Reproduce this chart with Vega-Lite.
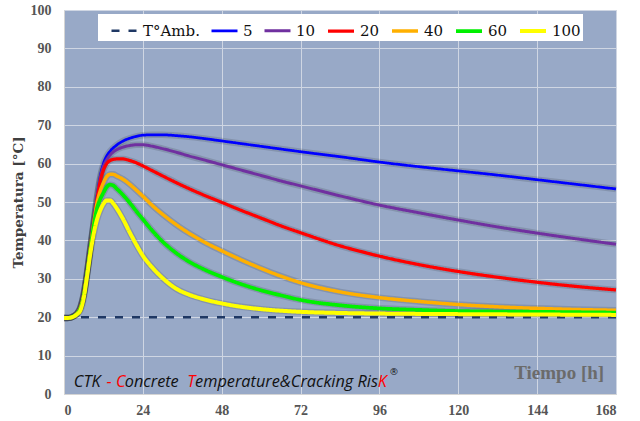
{
  "$schema": "https://vega.github.io/schema/vega-lite/v6.json",
  "width": 552,
  "height": 384,
  "autosize": {"type": "none"},
  "padding": {"left": 64, "top": 10, "right": 24, "bottom": 27},
  "background": "white",
  "config": {
    "view": {"fill": "#98a9c7", "stroke": "#d4d4d4", "strokeWidth": 1},
    "axis": {
      "grid": true, "gridColor": "#cfd6e3", "gridWidth": 1,
      "domainColor": "#d4d4d4", "ticks": false,
      "labelFont": "Liberation Serif", "labelFontWeight": "bold", "labelFontSize": 14, "labelColor": "#555555",
      "titleFont": "DejaVu Serif", "titleFontWeight": "bold", "titleFontSize": 13.5, "titleColor": "#404040"
    },
    "legend": {
      "orient": "none", "legendX": 34, "legendY": 4, "direction": "horizontal",
      "fillColor": "white", "padding": 2,
      "labelFont": "DejaVu Serif", "labelFontSize": 15, "labelColor": "#111111",
      "symbolType": "stroke", "symbolStrokeWidth": 4, "symbolSize": 676,
      "symbolOffset": 10, "labelOffset": 4, "columnPadding": 0
    }
  },
  "datasets": {
    "temps": [
      {"s": "T°Amb.", "h": 0, "t": 20}, {"s": "T°Amb.", "h": 168, "t": 20},

      {"s": "5", "h": 0, "t": 19.8}, {"s": "5", "h": 1, "t": 19.8}, {"s": "5", "h": 2, "t": 19.9}, {"s": "5", "h": 3, "t": 20.3},
      {"s": "5", "h": 4, "t": 21.0}, {"s": "5", "h": 5, "t": 22.6}, {"s": "5", "h": 6, "t": 26.0}, {"s": "5", "h": 7, "t": 31.5},
      {"s": "5", "h": 8, "t": 38.0}, {"s": "5", "h": 9, "t": 44.5}, {"s": "5", "h": 10, "t": 51.0}, {"s": "5", "h": 11, "t": 56.5},
      {"s": "5", "h": 12, "t": 60.0}, {"s": "5", "h": 13, "t": 62.0}, {"s": "5", "h": 14, "t": 63.2}, {"s": "5", "h": 16, "t": 64.8},
      {"s": "5", "h": 18, "t": 65.9}, {"s": "5", "h": 20, "t": 66.6}, {"s": "5", "h": 22, "t": 67.1}, {"s": "5", "h": 24, "t": 67.4},
      {"s": "5", "h": 27, "t": 67.5}, {"s": "5", "h": 30, "t": 67.5}, {"s": "5", "h": 34, "t": 67.3}, {"s": "5", "h": 38, "t": 67.0},
      {"s": "5", "h": 42, "t": 66.6}, {"s": "5", "h": 48, "t": 65.9}, {"s": "5", "h": 60, "t": 64.5}, {"s": "5", "h": 72, "t": 63.1},
      {"s": "5", "h": 84, "t": 61.8}, {"s": "5", "h": 96, "t": 60.4}, {"s": "5", "h": 108, "t": 59.2}, {"s": "5", "h": 120, "t": 58.1},
      {"s": "5", "h": 132, "t": 57.0}, {"s": "5", "h": 144, "t": 55.8}, {"s": "5", "h": 156, "t": 54.6}, {"s": "5", "h": 168, "t": 53.4},

      {"s": "10", "h": 0, "t": 19.8}, {"s": "10", "h": 1, "t": 19.8}, {"s": "10", "h": 2, "t": 19.9}, {"s": "10", "h": 3, "t": 20.3},
      {"s": "10", "h": 4, "t": 21.0}, {"s": "10", "h": 5, "t": 22.6}, {"s": "10", "h": 6, "t": 26.0}, {"s": "10", "h": 7, "t": 31.5},
      {"s": "10", "h": 8, "t": 38.0}, {"s": "10", "h": 9, "t": 44.5}, {"s": "10", "h": 10, "t": 51.0}, {"s": "10", "h": 11, "t": 56.2},
      {"s": "10", "h": 12, "t": 59.3}, {"s": "10", "h": 13, "t": 61.0}, {"s": "10", "h": 14, "t": 62.2}, {"s": "10", "h": 16, "t": 63.6},
      {"s": "10", "h": 18, "t": 64.3}, {"s": "10", "h": 20, "t": 64.7}, {"s": "10", "h": 22, "t": 64.9}, {"s": "10", "h": 24, "t": 64.9},
      {"s": "10", "h": 27, "t": 64.5}, {"s": "10", "h": 30, "t": 63.9}, {"s": "10", "h": 34, "t": 63.0}, {"s": "10", "h": 38, "t": 62.0},
      {"s": "10", "h": 42, "t": 61.1}, {"s": "10", "h": 48, "t": 59.7}, {"s": "10", "h": 54, "t": 58.3}, {"s": "10", "h": 60, "t": 56.9},
      {"s": "10", "h": 66, "t": 55.5}, {"s": "10", "h": 72, "t": 54.2}, {"s": "10", "h": 84, "t": 51.6}, {"s": "10", "h": 96, "t": 49.2},
      {"s": "10", "h": 108, "t": 47.2}, {"s": "10", "h": 120, "t": 45.3}, {"s": "10", "h": 132, "t": 43.5}, {"s": "10", "h": 144, "t": 41.9},
      {"s": "10", "h": 156, "t": 40.4}, {"s": "10", "h": 168, "t": 39.0},

      {"s": "20", "h": 0, "t": 19.8}, {"s": "20", "h": 1, "t": 19.8}, {"s": "20", "h": 2, "t": 19.9}, {"s": "20", "h": 3, "t": 20.3},
      {"s": "20", "h": 4, "t": 21.0}, {"s": "20", "h": 5, "t": 22.6}, {"s": "20", "h": 6, "t": 26.0}, {"s": "20", "h": 7, "t": 31.5},
      {"s": "20", "h": 8, "t": 38.0}, {"s": "20", "h": 9, "t": 44.3}, {"s": "20", "h": 10, "t": 50.3}, {"s": "20", "h": 11, "t": 55.3},
      {"s": "20", "h": 12, "t": 58.3}, {"s": "20", "h": 13, "t": 60.0}, {"s": "20", "h": 14, "t": 60.8}, {"s": "20", "h": 15, "t": 61.1},
      {"s": "20", "h": 16, "t": 61.2}, {"s": "20", "h": 18, "t": 61.2}, {"s": "20", "h": 20, "t": 60.8}, {"s": "20", "h": 22, "t": 60.2},
      {"s": "20", "h": 24, "t": 59.4}, {"s": "20", "h": 27, "t": 58.1}, {"s": "20", "h": 30, "t": 56.8}, {"s": "20", "h": 34, "t": 55.1},
      {"s": "20", "h": 38, "t": 53.5}, {"s": "20", "h": 42, "t": 52.0}, {"s": "20", "h": 48, "t": 49.9}, {"s": "20", "h": 54, "t": 47.8},
      {"s": "20", "h": 60, "t": 45.8}, {"s": "20", "h": 66, "t": 43.8}, {"s": "20", "h": 72, "t": 42.0}, {"s": "20", "h": 84, "t": 38.6},
      {"s": "20", "h": 96, "t": 35.9}, {"s": "20", "h": 108, "t": 33.7}, {"s": "20", "h": 120, "t": 31.9}, {"s": "20", "h": 132, "t": 30.4},
      {"s": "20", "h": 144, "t": 29.1}, {"s": "20", "h": 156, "t": 28.0}, {"s": "20", "h": 168, "t": 27.1},

      {"s": "40", "h": 0, "t": 19.8}, {"s": "40", "h": 1, "t": 19.8}, {"s": "40", "h": 2, "t": 19.9}, {"s": "40", "h": 3, "t": 20.3},
      {"s": "40", "h": 4, "t": 21.0}, {"s": "40", "h": 5, "t": 22.5}, {"s": "40", "h": 6, "t": 25.8}, {"s": "40", "h": 7, "t": 31.2},
      {"s": "40", "h": 8, "t": 37.6}, {"s": "40", "h": 9, "t": 44.0}, {"s": "40", "h": 10, "t": 49.5}, {"s": "40", "h": 11, "t": 52.8},
      {"s": "40", "h": 12, "t": 55.0}, {"s": "40", "h": 13, "t": 56.6}, {"s": "40", "h": 14, "t": 57.2}, {"s": "40", "h": 15, "t": 57.2},
      {"s": "40", "h": 16, "t": 56.8}, {"s": "40", "h": 18, "t": 55.9}, {"s": "40", "h": 20, "t": 54.6}, {"s": "40", "h": 22, "t": 53.1},
      {"s": "40", "h": 24, "t": 51.5}, {"s": "40", "h": 27, "t": 49.0}, {"s": "40", "h": 30, "t": 46.8}, {"s": "40", "h": 34, "t": 44.2},
      {"s": "40", "h": 38, "t": 41.9}, {"s": "40", "h": 42, "t": 39.9}, {"s": "40", "h": 48, "t": 37.3}, {"s": "40", "h": 54, "t": 34.9},
      {"s": "40", "h": 60, "t": 32.7}, {"s": "40", "h": 66, "t": 30.7}, {"s": "40", "h": 72, "t": 29.0}, {"s": "40", "h": 84, "t": 26.6},
      {"s": "40", "h": 96, "t": 25.1}, {"s": "40", "h": 108, "t": 24.1}, {"s": "40", "h": 120, "t": 23.3}, {"s": "40", "h": 132, "t": 22.7},
      {"s": "40", "h": 144, "t": 22.3}, {"s": "40", "h": 156, "t": 22.0}, {"s": "40", "h": 168, "t": 21.8},

      {"s": "60", "h": 0, "t": 19.8}, {"s": "60", "h": 1, "t": 19.8}, {"s": "60", "h": 2, "t": 19.9}, {"s": "60", "h": 3, "t": 20.3},
      {"s": "60", "h": 4, "t": 20.9}, {"s": "60", "h": 5, "t": 22.3}, {"s": "60", "h": 6, "t": 25.5}, {"s": "60", "h": 7, "t": 31.0},
      {"s": "60", "h": 8, "t": 37.3}, {"s": "60", "h": 9, "t": 43.5}, {"s": "60", "h": 10, "t": 48.2}, {"s": "60", "h": 11, "t": 50.7},
      {"s": "60", "h": 12, "t": 52.4}, {"s": "60", "h": 13, "t": 53.9}, {"s": "60", "h": 14, "t": 54.5}, {"s": "60", "h": 15, "t": 54.3},
      {"s": "60", "h": 16, "t": 53.5}, {"s": "60", "h": 18, "t": 51.8}, {"s": "60", "h": 20, "t": 49.8}, {"s": "60", "h": 22, "t": 47.6},
      {"s": "60", "h": 24, "t": 45.5}, {"s": "60", "h": 27, "t": 42.4}, {"s": "60", "h": 30, "t": 39.7}, {"s": "60", "h": 34, "t": 36.8},
      {"s": "60", "h": 38, "t": 34.5}, {"s": "60", "h": 42, "t": 32.7}, {"s": "60", "h": 48, "t": 30.5}, {"s": "60", "h": 54, "t": 28.6},
      {"s": "60", "h": 60, "t": 27.0}, {"s": "60", "h": 66, "t": 25.7}, {"s": "60", "h": 72, "t": 24.5}, {"s": "60", "h": 84, "t": 23.1},
      {"s": "60", "h": 96, "t": 22.3}, {"s": "60", "h": 108, "t": 21.9}, {"s": "60", "h": 120, "t": 21.6}, {"s": "60", "h": 144, "t": 21.4},
      {"s": "60", "h": 168, "t": 21.2},

      {"s": "100", "h": 0, "t": 19.8}, {"s": "100", "h": 1, "t": 19.8}, {"s": "100", "h": 2, "t": 19.9}, {"s": "100", "h": 3, "t": 20.2},
      {"s": "100", "h": 4, "t": 20.8}, {"s": "100", "h": 5, "t": 21.8}, {"s": "100", "h": 6, "t": 25.0}, {"s": "100", "h": 7, "t": 30.5},
      {"s": "100", "h": 8, "t": 36.5}, {"s": "100", "h": 9, "t": 41.5}, {"s": "100", "h": 10, "t": 45.3}, {"s": "100", "h": 11, "t": 47.8},
      {"s": "100", "h": 12, "t": 49.5}, {"s": "100", "h": 13, "t": 50.4}, {"s": "100", "h": 14, "t": 50.4}, {"s": "100", "h": 15, "t": 49.6},
      {"s": "100", "h": 16, "t": 48.4}, {"s": "100", "h": 18, "t": 45.5}, {"s": "100", "h": 20, "t": 42.1}, {"s": "100", "h": 22, "t": 38.9},
      {"s": "100", "h": 24, "t": 36.0}, {"s": "100", "h": 27, "t": 32.8}, {"s": "100", "h": 30, "t": 30.2}, {"s": "100", "h": 34, "t": 27.5},
      {"s": "100", "h": 38, "t": 25.9}, {"s": "100", "h": 42, "t": 24.8}, {"s": "100", "h": 48, "t": 23.6}, {"s": "100", "h": 54, "t": 22.7},
      {"s": "100", "h": 60, "t": 22.1}, {"s": "100", "h": 72, "t": 21.4}, {"s": "100", "h": 84, "t": 21.1}, {"s": "100", "h": 96, "t": 20.95},
      {"s": "100", "h": 120, "t": 20.8}, {"s": "100", "h": 144, "t": 20.7}, {"s": "100", "h": 168, "t": 20.6}
    ]
  },
  "layer": [
    {
      "data": {"name": "temps"},
      "transform": [{"filter": "datum.s !== 'T°Amb.'"}],
      "mark": {"type": "line", "interpolate": "monotone", "color": "black", "opacity": 0.13, "strokeWidth": 6.5},
      "encoding": {
        "x": {"field": "h", "type": "quantitative", "scale": {"domain": [0, 168], "nice": false},
          "axis": {"title": null, "values": [0, 24, 48, 72, 96, 120, 144, 168], "labelPadding": 9, "labelAngle": 0}},
        "y": {"field": "t", "type": "quantitative", "scale": {"domain": [0, 100], "nice": false},
          "axis": {"title": "Temperatura [°C]", "values": [0, 10, 20, 30, 40, 50, 60, 70, 80, 90, 100], "labelPadding": 13, "titlePadding": 5}},
        "detail": {"field": "s", "type": "nominal"}
      }
    },
    {
      "data": {"name": "temps"},
      "mark": {"type": "line", "interpolate": "monotone"},
      "encoding": {
        "x": {"field": "h", "type": "quantitative", "scale": {"domain": [0, 168], "nice": false},
          "axis": {"title": null, "values": [0, 24, 48, 72, 96, 120, 144, 168], "labelPadding": 9, "labelAngle": 0}},
        "y": {"field": "t", "type": "quantitative", "scale": {"domain": [0, 100], "nice": false},
          "axis": {"title": "Temperatura [°C]", "values": [0, 10, 20, 30, 40, 50, 60, 70, 80, 90, 100], "labelPadding": 13, "titlePadding": 5}},
        "color": {"field": "s", "type": "nominal",
          "scale": {"domain": ["T°Amb.", "5", "10", "20", "40", "60", "100"],
                    "range": ["#1f3864", "#0000ff", "#7030a0", "#ff0000", "#ffb000", "#00f000", "#ffff00"]},
          "legend": {"title": null}},
        "strokeDash": {"field": "s", "type": "nominal",
          "scale": {"domain": ["T°Amb.", "5", "10", "20", "40", "60", "100"],
                    "range": [[8, 9], [1, 0], [1, 0], [1, 0], [1, 0], [1, 0], [1, 0]]},
          "legend": {"title": null}},
        "strokeWidth": {"field": "s", "type": "ordinal",
          "scale": {"domain": ["T°Amb.", "5", "10", "20", "40", "60", "100"],
                    "range": [2.5, 4, 4, 4, 4, 4, 4]},
          "legend": null}
      }
    },
    {
      "data": {"values": [{"k": 1}]},
      "mark": {"type": "text", "font": "Open Sans", "fontStyle": "italic", "fontSize": 16.3, "align": "left", "baseline": "alphabetic", "color": "#111111"},
      "encoding": {
        "x": {"datum": 3.0, "type": "quantitative", "scale": {"domain": [0, 168], "nice": false}, "axis": {"title": null, "values": [0, 24, 48, 72, 96, 120, 144, 168], "labelPadding": 9, "labelAngle": 0}},
        "y": {"datum": 1.93, "type": "quantitative", "scale": {"domain": [0, 100], "nice": false}, "axis": {"title": "Temperatura [°C]", "values": [0, 10, 20, 30, 40, 50, 60, 70, 80, 90, 100], "labelPadding": 13, "titlePadding": 5}},
        "text": {"value": "CTK"}}
    },
    {
      "data": {"values": [{"k": 1}]},
      "mark": {"type": "text", "font": "Open Sans", "fontStyle": "italic", "fontSize": 16.3, "align": "left", "baseline": "alphabetic", "color": "#ff0000"},
      "encoding": {
        "x": {"datum": 12.9, "type": "quantitative", "scale": {"domain": [0, 168], "nice": false}, "axis": {"title": null, "values": [0, 24, 48, 72, 96, 120, 144, 168], "labelPadding": 9, "labelAngle": 0}},
        "y": {"datum": 1.93, "type": "quantitative", "scale": {"domain": [0, 100], "nice": false}, "axis": {"title": "Temperatura [°C]", "values": [0, 10, 20, 30, 40, 50, 60, 70, 80, 90, 100], "labelPadding": 13, "titlePadding": 5}},
        "text": {"value": "-"}}
    },
    {
      "data": {"values": [{"k": 1}]},
      "mark": {"type": "text", "font": "Open Sans", "fontStyle": "italic", "fontSize": 16.3, "align": "left", "baseline": "alphabetic", "color": "#ff0000"},
      "encoding": {
        "x": {"datum": 15.8, "type": "quantitative", "scale": {"domain": [0, 168], "nice": false}, "axis": {"title": null, "values": [0, 24, 48, 72, 96, 120, 144, 168], "labelPadding": 9, "labelAngle": 0}},
        "y": {"datum": 1.93, "type": "quantitative", "scale": {"domain": [0, 100], "nice": false}, "axis": {"title": "Temperatura [°C]", "values": [0, 10, 20, 30, 40, 50, 60, 70, 80, 90, 100], "labelPadding": 13, "titlePadding": 5}},
        "text": {"value": "C"}}
    },
    {
      "data": {"values": [{"k": 1}]},
      "mark": {"type": "text", "font": "Open Sans", "fontStyle": "italic", "fontSize": 16.3, "align": "left", "baseline": "alphabetic", "color": "#111111"},
      "encoding": {
        "x": {"datum": 18.5, "type": "quantitative", "scale": {"domain": [0, 168], "nice": false}, "axis": {"title": null, "values": [0, 24, 48, 72, 96, 120, 144, 168], "labelPadding": 9, "labelAngle": 0}},
        "y": {"datum": 1.93, "type": "quantitative", "scale": {"domain": [0, 100], "nice": false}, "axis": {"title": "Temperatura [°C]", "values": [0, 10, 20, 30, 40, 50, 60, 70, 80, 90, 100], "labelPadding": 13, "titlePadding": 5}},
        "text": {"value": "oncrete"}}
    },
    {
      "data": {"values": [{"k": 1}]},
      "mark": {"type": "text", "font": "Open Sans", "fontStyle": "italic", "fontSize": 16.3, "align": "left", "baseline": "alphabetic", "color": "#ff0000"},
      "encoding": {
        "x": {"datum": 37.5, "type": "quantitative", "scale": {"domain": [0, 168], "nice": false}, "axis": {"title": null, "values": [0, 24, 48, 72, 96, 120, 144, 168], "labelPadding": 9, "labelAngle": 0}},
        "y": {"datum": 1.93, "type": "quantitative", "scale": {"domain": [0, 100], "nice": false}, "axis": {"title": "Temperatura [°C]", "values": [0, 10, 20, 30, 40, 50, 60, 70, 80, 90, 100], "labelPadding": 13, "titlePadding": 5}},
        "text": {"value": "T"}}
    },
    {
      "data": {"values": [{"k": 1}]},
      "mark": {"type": "text", "font": "Open Sans", "fontStyle": "italic", "fontSize": 16.3, "align": "left", "baseline": "alphabetic", "color": "#111111"},
      "encoding": {
        "x": {"datum": 39.9, "type": "quantitative", "scale": {"domain": [0, 168], "nice": false}, "axis": {"title": null, "values": [0, 24, 48, 72, 96, 120, 144, 168], "labelPadding": 9, "labelAngle": 0}},
        "y": {"datum": 1.93, "type": "quantitative", "scale": {"domain": [0, 100], "nice": false}, "axis": {"title": "Temperatura [°C]", "values": [0, 10, 20, 30, 40, 50, 60, 70, 80, 90, 100], "labelPadding": 13, "titlePadding": 5}},
        "text": {"value": "emperature&Cracking Ris"}}
    },
    {
      "data": {"values": [{"k": 1}]},
      "mark": {"type": "text", "font": "Open Sans", "fontStyle": "italic", "fontSize": 16.3, "align": "left", "baseline": "alphabetic", "color": "#ff0000"},
      "encoding": {
        "x": {"datum": 95.5, "type": "quantitative", "scale": {"domain": [0, 168], "nice": false}, "axis": {"title": null, "values": [0, 24, 48, 72, 96, 120, 144, 168], "labelPadding": 9, "labelAngle": 0}},
        "y": {"datum": 1.93, "type": "quantitative", "scale": {"domain": [0, 100], "nice": false}, "axis": {"title": "Temperatura [°C]", "values": [0, 10, 20, 30, 40, 50, 60, 70, 80, 90, 100], "labelPadding": 13, "titlePadding": 5}},
        "text": {"value": "K"}}
    },
    {
      "data": {"values": [{"k": 1}]},
      "mark": {"type": "text", "font": "Open Sans", "fontStyle": "italic", "fontSize": 9.5, "align": "left", "baseline": "alphabetic", "color": "#111111"},
      "encoding": {
        "x": {"datum": 99.2, "type": "quantitative", "scale": {"domain": [0, 168], "nice": false}, "axis": {"title": null, "values": [0, 24, 48, 72, 96, 120, 144, 168], "labelPadding": 9, "labelAngle": 0}},
        "y": {"datum": 5.0, "type": "quantitative", "scale": {"domain": [0, 100], "nice": false}, "axis": {"title": "Temperatura [°C]", "values": [0, 10, 20, 30, 40, 50, 60, 70, 80, 90, 100], "labelPadding": 13, "titlePadding": 5}},
        "text": {"value": "®"}}
    },
    {
      "data": {"values": [{"k": 1}]},
      "mark": {"type": "text", "font": "Liberation Serif", "fontWeight": "bold", "fontSize": 19, "align": "right", "baseline": "alphabetic", "color": "#6b6b6b"},
      "encoding": {
        "x": {"datum": 164.4, "type": "quantitative", "scale": {"domain": [0, 168], "nice": false}, "axis": {"title": null, "values": [0, 24, 48, 72, 96, 120, 144, 168], "labelPadding": 9, "labelAngle": 0}},
        "y": {"datum": 3.85, "type": "quantitative", "scale": {"domain": [0, 100], "nice": false}, "axis": {"title": "Temperatura [°C]", "values": [0, 10, 20, 30, 40, 50, 60, 70, 80, 90, 100], "labelPadding": 13, "titlePadding": 5}},
        "text": {"value": "Tiempo [h]"}}
    }
  ]
}
